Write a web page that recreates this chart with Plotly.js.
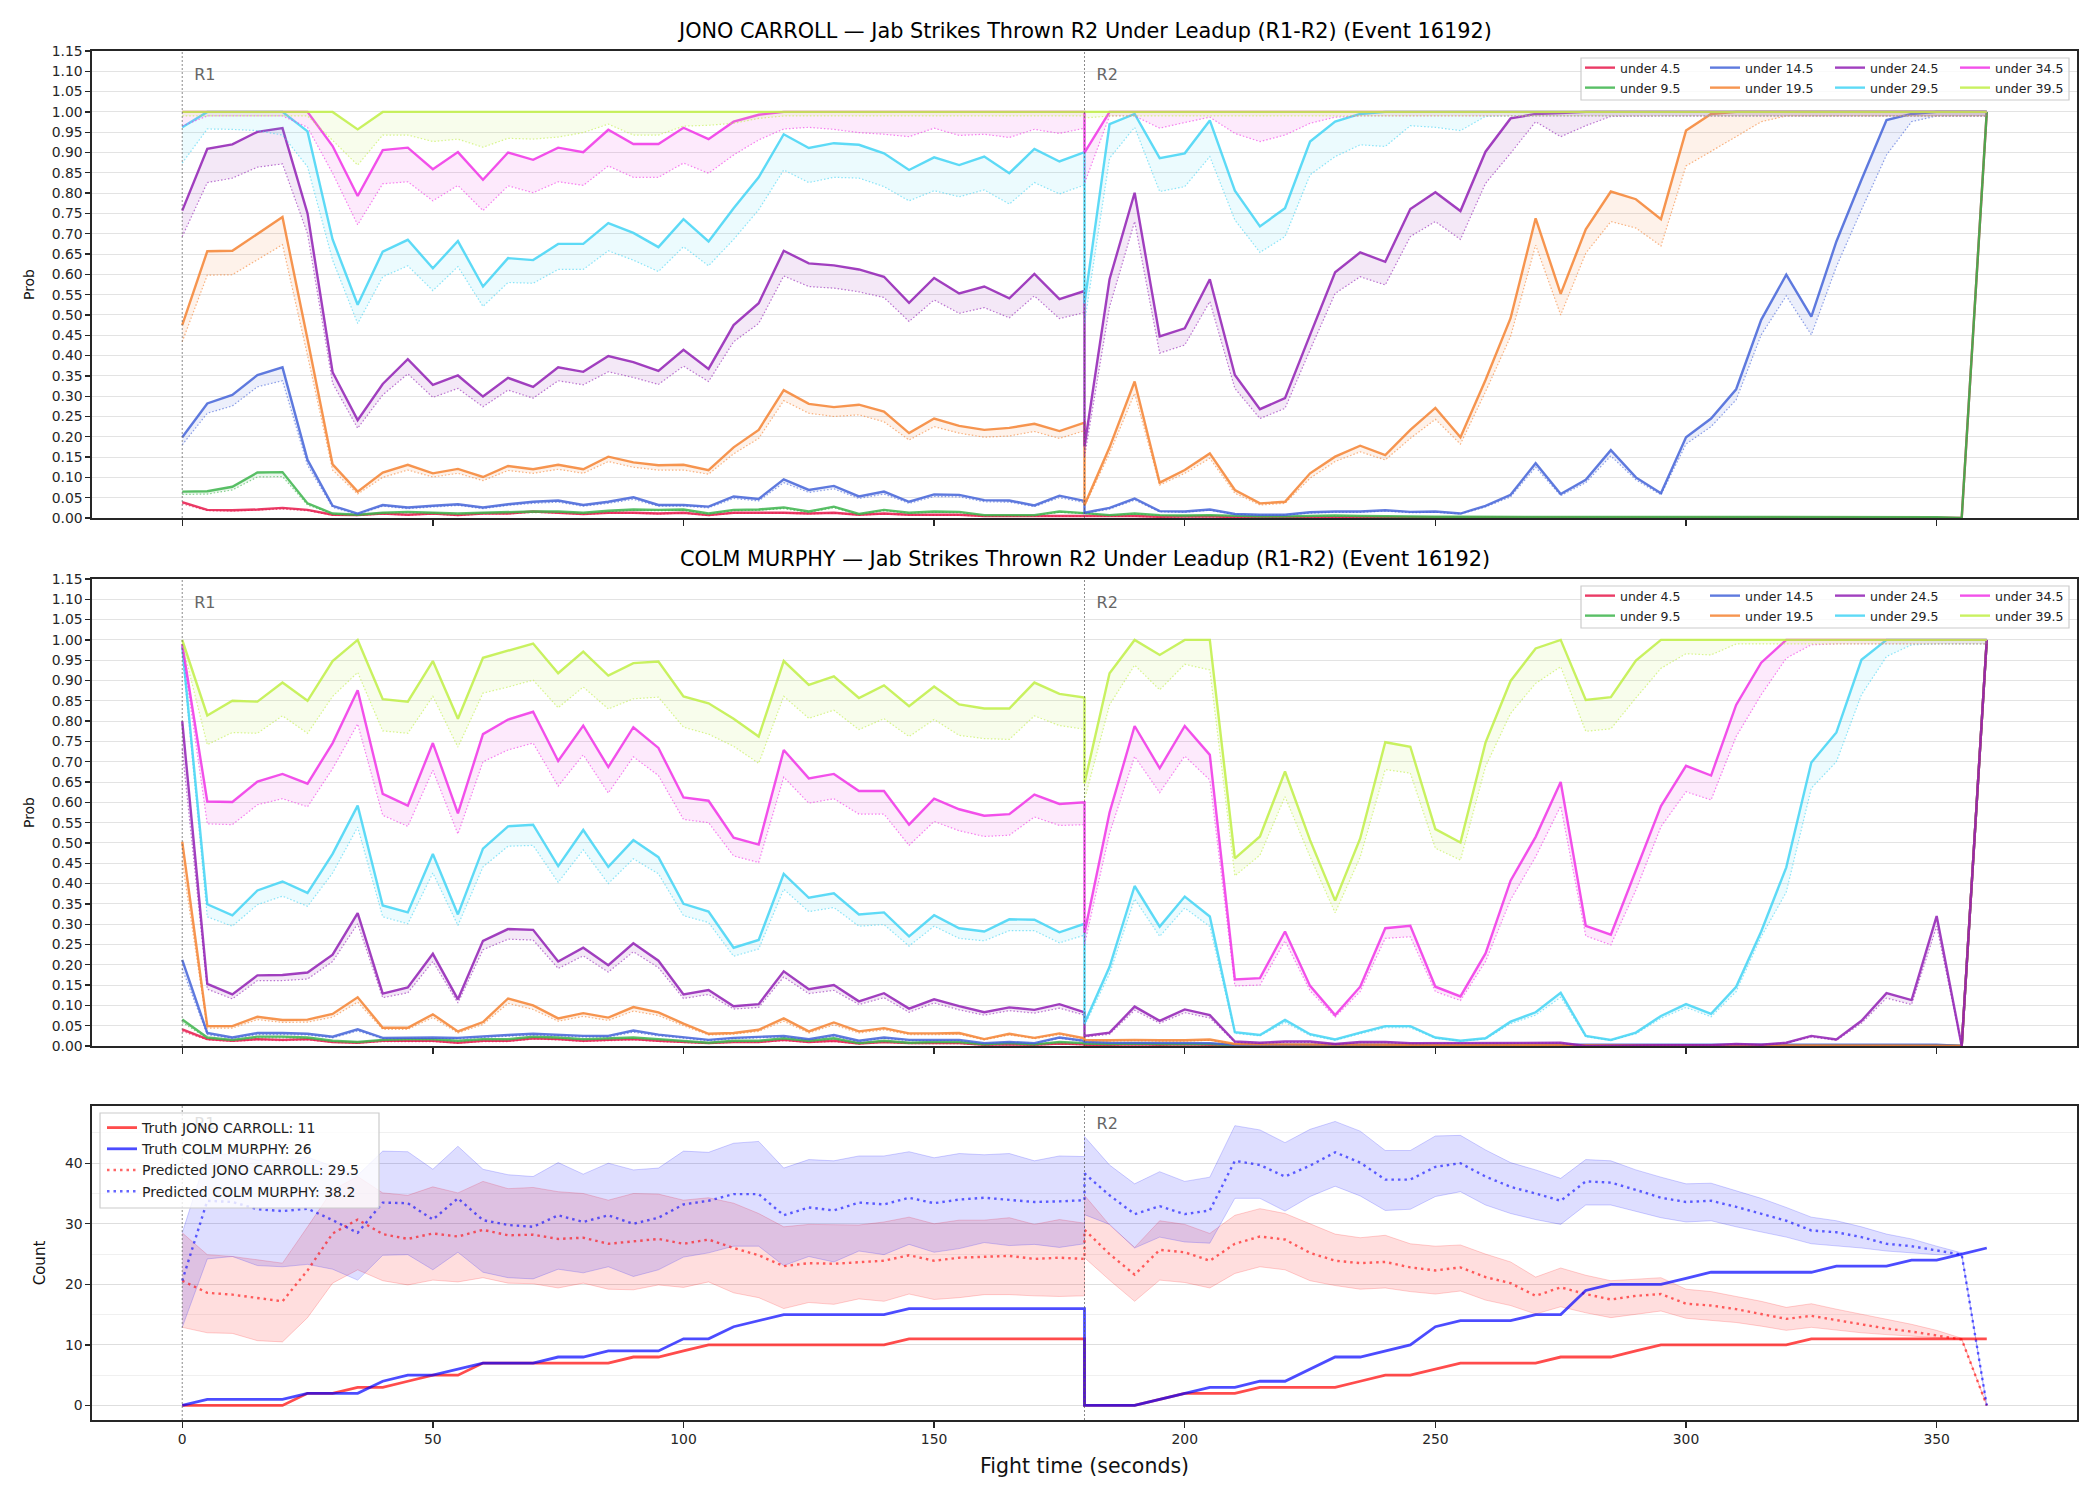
<!DOCTYPE html>
<html><head><meta charset="utf-8">
<script src="https://cdn.plot.ly/plotly-3.0.1.min.js"></script>
<style>html,body{margin:0;padding:0;background:#fff}#chart{width:2100px;height:1500px}</style>
</head><body><div id="chart"></div>
<script>
// ---------------- DATA ----------------
const FIGHTER_A = 'JONO CARROLL';
const FIGHTER_B = 'COLM MURPHY';
const TITLE_SUFFIX = ' \u2014 Jab Strikes Thrown R2 Under Leadup (R1-R2) (Event 16192)';
const THRESHOLDS = ['under 4.5','under 9.5','under 14.5','under 19.5','under 24.5','under 29.5','under 34.5','under 39.5'];
const COLORS = ['#e6194b','#3cb44b','#4363d8','#f58231','#911eb4','#42d4f4','#f032e6','#bfef45'];
const ROUND_STARTS = [0, 180];
const ROUND_LABELS = ['R1', 'R2'];
const X_TICKS = [0,50,100,150,200,250,300,350];
const Y_TICKS = [0,0.05,0.10,0.15,0.20,0.25,0.30,0.35,0.40,0.45,0.50,0.55,0.60,0.65,0.70,0.75,0.80,0.85,0.90,0.95,1.00,1.05,1.10,1.15];

const T_R1 = [0,5,10,15,20,25,30,35,40,45,50,55,60,65,70,75,80,85,90,95,100,105,110,115,120,125,130,135,140,145,150,155,160,165,170,175,180];
const T_R2 = [180,185,190,195,200,205,210,215,220,225,230,235,240,245,250,255,260,265,270,275,280,285,290,295,300,305,310,315,320,325,330,335,340,345,350,355,360];

// ---- JONO CARROLL probabilities (main line and dotted lower line) ----
const JC_U45_R1 = [0.039,0.020,0.019,0.021,0.025,0.020,0.008,0.007,0.011,0.008,0.011,0.007,0.011,0.011,0.016,0.013,0.010,0.013,0.013,0.011,0.013,0.007,0.013,0.013,0.013,0.011,0.013,0.008,0.011,0.008,0.008,0.008,0.005,0.005,0.005,0.005,0.005];
const JC_U45_R2 = [0.004,0.004,0.005,0.003,0.003,0.004,0.002,0.002,0.002,0.002,0.002,0.002,
  0.001,0.001,0.001,0.001,0.001,0.001,0.001,0.001,0.001,0.001,
  0.001,0.001,0.001,0.001,0.001,0.001,0.001,0.001,0.001,0.001,
  0.001,0.001,0.001,0.000,1.000];
const JC_U45_LO_R1 = [0.035,0.018,0.017,0.019,0.022,0.018,0.007,0.006,0.010,0.007,0.010,0.006,0.010,0.010,0.014,0.012,0.009,0.012,0.012,0.010,0.012,0.006,0.012,0.012,0.012,0.010,0.012,0.007,0.010,0.007,0.007,0.007,0.004,0.004,0.004,0.004,0.004];
const JC_U45_LO_R2 = [0.003,0.003,0.004,0.002,0.002,0.003,0.001,0.001,0.001,0.001,0.001,0.001,
  0.001,0.001,0.001,0.001,0.001,0.001,0.001,0.001,0.001,0.001,
  0.001,0.001,0.001,0.001,0.001,0.001,0.001,0.001,0.001,0.001,
  0.001,0.001,0.001,0.000,0.990];

const JC_U95_R1 = [0.065,0.066,0.077,0.112,0.113,0.036,0.011,0.008,0.013,0.015,0.013,0.011,0.013,0.015,0.016,0.016,0.013,0.018,0.021,0.020,0.021,0.011,0.020,0.021,0.026,0.016,0.028,0.010,0.020,0.013,0.016,0.015,0.007,0.007,0.007,0.016,0.013];
const JC_U95_R2 = [0.012,0.007,0.011,0.007,0.006,0.007,0.005,0.004,0.004,0.005,0.006,0.005,0.004,0.003,0.003,0.003,0.003,0.003,0.003,
  0.002,0.002,0.002,0.002,0.002,0.002,0.002,0.002,0.002,0.002,
  0.002,0.002,0.002,0.002,0.002,0.002,0.000,1.000];
const JC_U95_LO_R1 = [0.058,0.059,0.069,0.101,0.102,0.032,0.010,0.007,0.012,0.013,0.012,0.010,0.012,0.013,0.014,0.014,0.012,0.016,0.019,0.018,0.019,0.010,0.018,0.019,0.023,0.014,0.025,0.009,0.018,0.012,0.014,0.013,0.006,0.006,0.006,0.014,0.012];
const JC_U95_LO_R2 = [0.011,0.006,0.010,0.006,0.005,0.006,0.004,0.003,0.003,0.004,0.005,0.004,0.003,0.002,0.002,0.002,0.002,0.002,0.002,
  0.001,0.001,0.001,0.001,0.001,0.001,0.001,0.001,0.001,0.001,
  0.001,0.001,0.001,0.001,0.001,0.001,0.000,0.990];

const JC_U145_R1 = [0.199,0.282,0.303,0.352,0.371,0.143,0.030,0.011,0.032,0.026,0.030,0.034,0.026,0.034,0.040,0.043,0.032,0.040,0.051,0.032,0.032,0.028,0.053,0.047,0.095,0.069,0.079,0.053,0.065,0.040,0.058,0.057,0.044,0.043,0.031,0.055,0.042];
const JC_U145_R2 = [0.013,0.025,0.048,0.017,0.016,0.021,0.010,0.008,0.008,0.014,0.016,0.016,0.019,0.015,0.016,0.011,0.030,0.057,0.135,0.059,0.094,0.167,0.100,0.061,0.199,0.245,0.317,0.488,0.599,0.496,0.681,0.833,0.980,0.995,1.000,1.000,1.000];
const JC_U145_LO_R1 = [0.180,0.258,0.276,0.323,0.338,0.130,0.026,0.009,0.029,0.023,0.027,0.031,0.023,0.031,0.036,0.039,0.029,0.036,0.046,0.029,0.029,0.025,0.048,0.042,0.087,0.063,0.072,0.048,0.059,0.036,0.053,0.052,0.040,0.039,0.028,0.050,0.038];
const JC_U145_LO_R2 = [0.011,0.022,0.044,0.015,0.014,0.019,0.009,0.007,0.007,0.012,0.014,0.014,0.017,0.013,0.014,0.010,0.027,0.052,0.125,0.055,0.087,0.153,0.094,0.057,0.182,0.225,0.291,0.451,0.547,0.451,0.619,0.759,0.894,0.976,0.990,0.990,0.990];

const JC_U195_R1 = [0.475,0.657,0.658,0.700,0.741,0.440,0.132,0.065,0.112,0.131,0.110,0.121,0.101,0.128,0.120,0.131,0.120,0.151,0.137,0.130,0.131,0.118,0.174,0.217,0.315,0.281,0.273,0.279,0.262,0.209,0.245,0.227,0.217,0.222,0.232,0.214,0.235];
const JC_U195_R2 = [0.032,0.174,0.336,0.087,0.118,0.159,0.069,0.036,0.040,0.110,0.151,0.178,0.155,0.217,0.271,0.199,0.340,0.492,0.738,0.552,0.711,0.804,0.785,0.736,0.954,0.995,1.000,1.000,1.000,1.000,1.000,1.000,1.000,1.000,1.000,1.000,1.000];
const JC_U195_LO_R1 = [0.434,0.598,0.599,0.635,0.673,0.400,0.118,0.059,0.100,0.118,0.101,0.110,0.092,0.117,0.110,0.120,0.110,0.139,0.125,0.118,0.118,0.108,0.158,0.196,0.289,0.258,0.250,0.254,0.237,0.192,0.225,0.209,0.199,0.202,0.213,0.196,0.215];
const JC_U195_LO_R2 = [0.029,0.159,0.307,0.081,0.110,0.147,0.061,0.032,0.036,0.098,0.139,0.163,0.143,0.196,0.243,0.182,0.311,0.447,0.672,0.500,0.652,0.730,0.714,0.670,0.867,0.902,0.939,0.976,0.990,0.990,0.990,0.990,0.990,0.990,0.990,0.990,0.990];

const JC_U245_R1 = [0.757,0.909,0.920,0.951,0.960,0.750,0.359,0.241,0.330,0.391,0.328,0.351,0.299,0.345,0.323,0.371,0.360,0.399,0.384,0.362,0.414,0.367,0.475,0.529,0.658,0.627,0.622,0.612,0.594,0.530,0.591,0.553,0.570,0.541,0.601,0.539,0.559];
const JC_U245_R2 = [0.176,0.588,0.801,0.447,0.467,0.588,0.352,0.268,0.295,0.451,0.605,0.654,0.631,0.761,0.802,0.756,0.902,0.984,0.995,0.997,
  1.000,1.000,1.000,1.000,1.000,1.000,1.000,1.000,1.000,1.000,
  1.000,1.000,1.000,1.000,1.000,1.000,1.000];
const JC_U245_LO_R1 = [0.693,0.826,0.837,0.864,0.872,0.700,0.332,0.221,0.303,0.355,0.297,0.319,0.274,0.315,0.295,0.338,0.328,0.360,0.346,0.329,0.374,0.336,0.434,0.479,0.596,0.570,0.566,0.557,0.543,0.484,0.537,0.504,0.518,0.493,0.547,0.491,0.506];
const JC_U245_LO_R2 = [0.150,0.520,0.730,0.406,0.426,0.533,0.319,0.245,0.270,0.414,0.553,0.594,0.574,0.693,0.730,0.686,0.824,0.898,0.976,0.939,0.966,0.989,
  0.990,0.990,0.990,0.990,0.990,0.990,0.990,0.990,0.990,0.990,
  0.990,0.990,0.990,0.990,0.990];

const JC_U295_R1 = [0.962,1.000,1.000,1.000,1.000,0.952,0.686,0.525,0.656,0.685,0.615,0.682,0.570,0.640,0.635,0.675,0.675,0.726,0.702,0.667,0.736,0.681,0.763,0.839,0.945,0.911,0.923,0.919,0.898,0.857,0.888,0.869,0.890,0.849,0.909,0.878,0.901];
const JC_U295_R2 = [0.529,0.970,0.995,0.886,0.898,0.979,0.806,0.718,0.763,0.927,0.976,0.995,
  1.000,1.000,1.000,1.000,1.000,1.000,1.000,1.000,1.000,1.000,
  1.000,1.000,1.000,1.000,1.000,1.000,1.000,1.000,1.000,1.000,
  1.000,1.000,1.000,1.000,1.000];
const JC_U295_LO_R1 = [0.874,0.958,0.957,0.954,0.943,0.865,0.635,0.479,0.594,0.621,0.560,0.619,0.521,0.580,0.578,0.612,0.612,0.658,0.635,0.607,0.668,0.621,0.686,0.759,0.857,0.826,0.839,0.837,0.816,0.781,0.806,0.791,0.808,0.773,0.826,0.798,0.820];
const JC_U295_LO_R2 = [0.480,0.886,0.962,0.804,0.816,0.890,0.734,0.654,0.693,0.845,0.890,0.919,0.915,0.966,0.962,0.954,0.989,
  0.990,0.990,0.990,0.990,0.990,0.990,0.990,0.990,0.990,0.990,
  0.990,0.990,0.990,0.990,0.990,0.990,0.990,0.990,0.990,0.990];

const JC_U345_R1 = [1.000,1.000,1.000,1.000,1.000,1.000,0.916,0.793,0.906,0.912,0.859,0.901,0.833,0.900,0.882,0.912,0.901,0.956,0.921,0.921,0.961,0.933,0.976,0.993,
  1.000,1.000,1.000,1.000,1.000,1.000,1.000,1.000,1.000,1.000,1.000,1.000,1.000];
const JC_U345_R2 = [0.900,
  1.000,1.000,1.000,1.000,1.000,1.000,1.000,1.000,1.000,1.000,
  1.000,1.000,1.000,1.000,1.000,1.000,1.000,1.000,1.000,1.000,
  1.000,1.000,1.000,1.000,1.000,1.000,1.000,1.000,1.000,1.000,
  1.000,1.000,1.000,1.000,1.000,1.000];
const JC_U345_LO_R1 = [0.965,0.990,0.990,0.990,0.990,0.962,0.849,0.722,0.823,0.828,0.781,0.819,0.757,0.818,0.801,0.828,0.819,0.867,0.839,0.839,0.874,0.849,0.894,0.931,0.958,0.962,0.957,0.949,0.945,0.939,0.960,0.942,0.945,0.937,0.957,0.947,0.960];
const JC_U345_LO_R2 = [0.824,0.990,0.990,0.960,0.974,0.987,0.947,0.927,0.943,0.972,0.987,
  0.990,0.990,0.990,0.990,0.990,0.990,0.990,0.990,0.990,0.990,
  0.990,0.990,0.990,0.990,0.990,0.990,0.990,0.990,0.990,0.990,
  0.990,0.990,0.990,0.990,0.990,0.990];

const JC_U395_R1 = [1.000,1.000,1.000,1.000,1.000,1.000,1.000,0.957,
  1.000,1.000,1.000,1.000,1.000,1.000,1.000,1.000,1.000,1.000,
  1.000,1.000,1.000,1.000,1.000,1.000,1.000,1.000,1.000,1.000,
  1.000,1.000,1.000,1.000,1.000,1.000,1.000,1.000,1.000];
const JC_U395_R2 = [1.000,1.000,1.000,1.000,1.000,1.000,1.000,1.000,1.000,1.000,
  1.000,1.000,1.000,1.000,1.000,1.000,1.000,1.000,1.000,1.000,
  1.000,1.000,1.000,1.000,1.000,1.000,1.000,1.000,1.000,1.000,
  1.000,1.000,1.000,1.000,1.000,1.000,1.000];
const JC_U395_LO_R1 = [0.990,0.990,0.990,0.990,0.990,0.990,0.930,0.869,0.943,0.943,0.927,0.933,0.913,0.935,0.933,0.938,0.949,0.970,0.943,0.943,0.965,0.967,0.972,0.984,
  0.990,0.990,0.990,0.990,0.990,0.990,0.990,0.990,0.990,0.990,0.990,0.990,0.990];
const JC_U395_LO_R2 = [0.985,
  0.990,0.990,0.990,0.990,0.990,0.990,0.990,0.990,0.990,0.990,
  0.990,0.990,0.990,0.990,0.990,0.990,0.990,0.990,0.990,0.990,
  0.990,0.990,0.990,0.990,0.990,0.990,0.990,0.990,0.990,0.990,
  0.990,0.990,0.990,0.990,0.990,0.990];

// ---- COLM MURPHY probabilities ----
const CM_U45_R1 = [0.041,0.017,0.013,0.017,0.015,0.017,0.010,0.008,0.013,0.013,0.013,0.008,0.013,0.013,0.019,0.017,0.013,0.015,0.017,0.013,0.010,0.007,0.010,0.010,0.015,0.010,0.013,0.006,0.010,0.007,0.007,0.007,0.003,0.004,0.003,0.006,0.004];
const CM_U45_R2 = [0.003,0.003,0.004,0.003,0.004,0.003,
  0.001,0.001,0.001,0.001,0.001,0.001,0.001,0.001,0.001,0.001,
  0.001,0.001,0.001,0.001,0.001,0.001,0.001,0.001,0.001,0.001,
  0.001,0.001,0.001,0.001,0.001,0.001,0.001,0.001,0.001,0.000,1.000];
const CM_U45_LO_R1 = [0.036,0.015,0.011,0.015,0.013,0.015,0.009,0.007,0.011,0.011,0.011,0.007,0.011,0.011,0.017,0.015,0.011,0.013,0.015,0.011,0.009,0.006,0.009,0.009,0.013,0.009,0.011,0.005,0.009,0.006,0.006,0.006,0.002,0.003,0.002,0.005,0.003];
const CM_U45_LO_R2 = [0.002,0.002,0.003,0.002,0.003,0.002,
  0.001,0.001,0.001,0.001,0.001,0.001,0.001,0.001,0.001,0.001,
  0.001,0.001,0.001,0.001,0.001,0.001,0.001,0.001,0.001,0.001,
  0.001,0.001,0.001,0.001,0.001,0.001,0.001,0.001,0.001,0.000,0.990];

const CM_U95_R1 = [0.065,0.021,0.015,0.023,0.023,0.021,0.013,0.010,0.015,0.017,0.017,0.013,0.017,0.017,0.023,0.021,0.017,0.019,0.021,0.017,0.013,0.008,0.013,0.013,0.019,0.013,0.019,0.007,0.013,0.008,0.010,0.010,0.004,0.007,0.004,0.010,0.007];
const CM_U95_R2 = [0.006,0.005,0.006,0.005,0.005,0.005,
  0.002,0.002,0.002,0.002,0.002,0.002,0.002,0.002,0.002,0.002,
  0.002,0.002,0.002,0.002,0.002,0.002,0.002,0.002,0.002,0.002,
  0.002,0.002,0.002,0.002,0.002,0.002,0.002,0.002,0.002,0.000,1.000];
const CM_U95_LO_R1 = [0.058,0.019,0.013,0.020,0.020,0.019,0.011,0.009,0.013,0.015,0.015,0.011,0.015,0.015,0.020,0.019,0.015,0.017,0.019,0.015,0.011,0.007,0.011,0.011,0.017,0.011,0.017,0.006,0.011,0.007,0.009,0.009,0.003,0.006,0.003,0.009,0.006];
const CM_U95_LO_R2 = [0.005,0.004,0.005,0.004,0.004,0.004,
  0.001,0.001,0.001,0.001,0.001,0.001,0.001,0.001,0.001,0.001,
  0.001,0.001,0.001,0.001,0.001,0.001,0.001,0.001,0.001,0.001,
  0.001,0.001,0.001,0.001,0.001,0.001,0.001,0.001,0.001,0.000,0.990];

const CM_U145_R1 = [0.212,0.032,0.021,0.032,0.032,0.030,0.023,0.041,0.020,0.021,0.021,0.020,0.024,0.027,0.030,0.028,0.025,0.025,0.038,0.028,0.021,0.015,0.020,0.023,0.025,0.017,0.027,0.013,0.021,0.015,0.015,0.015,0.007,0.010,0.007,0.021,0.013];
const CM_U145_R2 = [0.010,0.008,0.008,0.007,0.007,0.007,
  0.003,0.003,0.003,0.003,0.003,0.003,0.003,0.003,0.003,0.003,
  0.003,0.003,0.003,0.003,0.003,0.003,0.003,0.003,0.003,0.003,
  0.003,0.003,0.003,0.003,0.003,0.003,0.003,0.003,0.003,0.000,1.000];
const CM_U145_LO_R1 = [0.190,0.028,0.019,0.028,0.028,0.027,0.020,0.037,0.018,0.019,0.019,0.018,0.021,0.024,0.027,0.025,0.022,0.022,0.034,0.025,0.019,0.013,0.018,0.020,0.022,0.015,0.024,0.011,0.019,0.013,0.013,0.013,0.006,0.009,0.006,0.019,0.011];
const CM_U145_LO_R2 = [0.009,0.007,0.007,0.006,0.006,0.006,
  0.002,0.002,0.002,0.002,0.002,0.002,0.002,0.002,0.002,0.002,
  0.002,0.002,0.002,0.002,0.002,0.002,0.002,0.002,0.002,0.002,
  0.002,0.002,0.002,0.002,0.002,0.002,0.002,0.002,0.002,0.000,0.990];

const CM_U195_R1 = [0.503,0.049,0.049,0.072,0.064,0.065,0.079,0.120,0.045,0.045,0.078,0.036,0.059,0.117,0.100,0.068,0.081,0.070,0.096,0.083,0.055,0.030,0.032,0.040,0.068,0.036,0.058,0.036,0.044,0.031,0.031,0.032,0.017,0.030,0.020,0.031,0.019];
const CM_U195_R2 = [0.015,0.014,0.015,0.014,0.014,0.016,0.005,0.004,0.004,0.004,0.003,0.003,0.003,0.003,0.002,0.002,0.002,0.002,0.002,
  0.001,0.001,0.001,0.001,0.001,0.001,0.001,0.001,0.001,0.001,
  0.001,0.001,0.001,0.001,0.001,0.001,0.000,1.000];
const CM_U195_LO_R1 = [0.455,0.044,0.044,0.065,0.058,0.059,0.071,0.108,0.041,0.041,0.070,0.032,0.053,0.105,0.090,0.061,0.073,0.063,0.086,0.075,0.050,0.027,0.029,0.036,0.061,0.032,0.052,0.032,0.040,0.028,0.028,0.029,0.015,0.027,0.018,0.028,0.017];
const CM_U195_LO_R2 = [0.013,0.012,0.013,0.012,0.012,0.014,0.004,0.003,0.003,0.003,0.002,0.002,0.002,0.002,0.001,0.001,0.001,0.001,0.001,
  0.001,0.001,0.001,0.001,0.001,0.001,0.001,0.001,0.001,0.001,
  0.001,0.001,0.001,0.001,0.001,0.001,0.000,0.990];

const CM_U245_R1 = [0.800,0.153,0.127,0.174,0.175,0.181,0.225,0.327,0.129,0.144,0.227,0.115,0.259,0.288,0.286,0.208,0.242,0.199,0.253,0.210,0.127,0.138,0.098,0.103,0.184,0.140,0.150,0.110,0.130,0.092,0.115,0.098,0.083,0.095,0.089,0.103,0.083];
const CM_U245_R2 = [0.025,0.033,0.097,0.062,0.090,0.076,0.011,0.008,0.011,0.011,0.005,0.010,0.010,0.007,0.007,0.007,0.007,0.007,0.008,0.008,0.000,0.001,0.001,0.002,0.002,0.002,0.005,0.003,0.008,0.025,0.016,0.062,0.130,0.113,0.320,0.000,1.000];
const CM_U245_LO_R1 = [0.730,0.140,0.116,0.161,0.161,0.165,0.208,0.301,0.119,0.131,0.208,0.106,0.237,0.263,0.261,0.191,0.222,0.182,0.232,0.193,0.117,0.127,0.091,0.095,0.170,0.129,0.137,0.102,0.119,0.083,0.106,0.089,0.076,0.087,0.081,0.093,0.076];
const CM_U245_LO_R2 = [0.022,0.029,0.088,0.056,0.082,0.069,0.009,0.007,0.009,0.009,0.004,0.008,0.008,0.006,0.006,0.006,0.006,0.006,0.007,0.007,0.000,0.001,0.001,0.002,0.002,0.002,0.004,0.003,0.007,0.022,0.014,0.056,0.118,0.102,0.295,0.000,0.990];

const CM_U295_R1 = [0.984,0.349,0.322,0.383,0.405,0.377,0.473,0.592,0.346,0.329,0.473,0.324,0.486,0.541,0.545,0.443,0.532,0.441,0.507,0.465,0.350,0.331,0.242,0.261,0.424,0.365,0.376,0.324,0.329,0.270,0.322,0.290,0.282,0.312,0.311,0.280,0.301];
const CM_U295_R2 = [0.056,0.195,0.394,0.294,0.368,0.319,0.034,0.027,0.064,0.029,0.016,0.033,0.049,0.049,0.021,0.013,0.019,0.060,0.083,0.131,0.025,0.015,0.033,0.074,0.103,0.079,0.146,0.282,0.440,0.698,0.772,0.951,1.000,1.000,1.000,1.000,1.000];
const CM_U295_LO_R1 = [0.970,0.318,0.295,0.348,0.369,0.344,0.426,0.539,0.318,0.301,0.426,0.297,0.441,0.492,0.494,0.403,0.483,0.400,0.461,0.424,0.321,0.304,0.221,0.239,0.386,0.331,0.341,0.295,0.299,0.246,0.295,0.265,0.259,0.284,0.284,0.254,0.273];
const CM_U295_LO_R2 = [0.050,0.178,0.362,0.270,0.340,0.294,0.031,0.025,0.058,0.026,0.014,0.030,0.045,0.045,0.019,0.012,0.017,0.055,0.076,0.120,0.023,0.014,0.030,0.068,0.095,0.072,0.134,0.269,0.379,0.635,0.700,0.865,0.959,0.988,0.990,0.990,0.990];

const CM_U345_R1 = [0.990,0.602,0.601,0.651,0.670,0.646,0.746,0.876,0.621,0.592,0.746,0.573,0.768,0.804,0.823,0.702,0.789,0.687,0.785,0.734,0.612,0.604,0.513,0.496,0.729,0.659,0.670,0.628,0.628,0.545,0.609,0.583,0.567,0.571,0.619,0.596,0.600];
const CM_U345_R2 = [0.278,0.575,0.788,0.684,0.788,0.717,0.164,0.167,0.282,0.148,0.076,0.146,0.290,0.296,0.146,0.122,0.228,0.407,0.515,0.650,0.296,0.274,0.430,0.591,0.690,0.666,0.840,0.944,1.000,1.000,1.000,1.000,1.000,1.000,1.000,1.000,1.000];
const CM_U345_LO_R1 = [0.980,0.547,0.545,0.594,0.609,0.589,0.683,0.793,0.568,0.541,0.679,0.522,0.700,0.729,0.746,0.640,0.717,0.623,0.712,0.666,0.558,0.550,0.468,0.452,0.662,0.598,0.609,0.571,0.571,0.494,0.553,0.530,0.516,0.519,0.564,0.543,0.545];
const CM_U345_LO_R2 = [0.250,0.524,0.713,0.624,0.714,0.655,0.148,0.150,0.259,0.136,0.071,0.134,0.265,0.269,0.134,0.112,0.208,0.360,0.466,0.591,0.271,0.249,0.384,0.540,0.626,0.606,0.762,0.865,0.955,0.988,0.990,0.990,0.990,0.990,0.990,0.990,0.990];

const CM_U395_R1 = [1.000,0.814,0.850,0.848,0.895,0.850,0.948,1.000,0.854,0.848,0.948,0.806,0.956,0.974,0.991,0.918,0.971,0.912,0.943,0.947,0.861,0.844,0.806,0.762,0.948,0.889,0.910,0.857,0.888,0.837,0.885,0.841,0.831,0.831,0.895,0.867,0.858];
const CM_U395_R2 = [0.647,0.918,1.000,0.963,1.000,1.000,0.462,0.516,0.676,0.507,0.358,0.511,0.748,0.737,0.534,0.501,0.747,0.899,0.979,1.000,0.852,0.859,0.949,1.000,
  1.000,1.000,1.000,1.000,1.000,1.000,1.000,1.000,1.000,1.000,1.000,1.000,1.000];
const CM_U395_LO_R1 = [0.990,0.742,0.772,0.770,0.813,0.770,0.861,0.920,0.776,0.770,0.861,0.736,0.869,0.884,0.901,0.833,0.884,0.830,0.855,0.859,0.785,0.768,0.738,0.696,0.861,0.807,0.827,0.779,0.806,0.762,0.804,0.765,0.757,0.755,0.813,0.789,0.780];
const CM_U395_LO_R2 = [0.606,0.840,0.938,0.877,0.940,0.926,0.419,0.470,0.614,0.466,0.328,0.465,0.681,0.672,0.487,0.458,0.688,0.819,0.893,0.934,0.775,0.781,0.857,0.930,0.966,0.963,
  0.990,0.990,0.990,0.990,0.990,0.990,0.990,0.990,0.990,0.990,0.990];

// ---- Counts (bottom panel) ----
const COUNT_LEGEND = ['Truth JONO CARROLL: 11','Truth COLM MURPHY: 26','Predicted JONO CARROLL: 29.5','Predicted COLM MURPHY: 38.2'];
const TRUTH_JC_R1 = [0,0,0,0,0,2,2,3,3,4,5,5,7,7,7,7,7,7,8,8,9,10,10,10,10,10,10,10,10,11,11,11,11,11,11,11,11];
const TRUTH_JC_R2 = [0,0,0,1,2,2,2,3,3,3,3,4,5,5,6,7,7,7,7,8,8,8,9,10,10,10,10,10,10,11,11,11,11,11,11,11,11];
const TRUTH_CM_R1 = [0,1,1,1,1,2,2,2,4,5,5,6,7,7,7,8,8,9,9,9,11,11,13,14,15,15,15,15,15,16,16,16,16,16,16,16,16];
const TRUTH_CM_R2 = [0,0,0,1,2,3,3,4,4,6,8,8,9,10,13,14,14,14,15,15,19,20,20,20,21,22,22,22,22,22,23,23,23,24,24,25,26];
const PRED_JC_R1 = [20.6,18.6,18.3,17.7,17.2,22.3,28.4,30.7,28.3,27.5,28.4,27.9,29.0,28.1,28.2,27.5,27.7,26.7,27.1,27.5,26.7,27.4,26.0,24.8,23.0,23.5,23.4,23.7,23.9,24.8,23.9,24.4,24.5,24.7,24.2,24.4,24.2];
const PRED_JC_R2 = [29.0,25.0,21.6,25.7,25.3,23.9,26.7,27.9,27.4,25.2,23.9,23.5,23.7,22.8,22.3,22.8,21.2,20.2,18.1,19.5,18.4,17.5,18.1,18.4,16.8,16.5,15.9,15.1,14.3,14.8,14.1,13.4,12.7,12.2,11.5,10.9,0];
const PRED_CM_R1 = [20.6,33.8,33.6,32.4,32.1,32.5,30.6,28.5,33.5,33.4,30.7,34.2,30.6,29.8,29.5,31.4,30.3,31.4,30.0,31.0,33.2,33.8,34.9,34.9,31.4,32.7,32.2,33.5,33.2,34.3,33.4,34.0,34.3,33.9,33.6,33.7,33.9];
const PRED_CM_R2 = [38.3,34.7,31.6,32.9,31.6,32.2,40.4,39.7,37.8,39.6,41.8,40.1,37.3,37.3,39.4,40.0,37.8,36.1,35.0,33.8,37.0,36.8,35.6,34.3,33.6,33.8,32.8,31.7,30.5,28.9,28.6,27.8,26.7,26.3,25.6,24.9,0];
const BAND_JC_HI_R1 = [28.5,24.9,24.6,24.0,23.5,29.5,35.6,37.8,35.1,34.7,36.1,35.1,37.0,35.8,36.0,35.3,35.0,33.9,35.0,34.9,33.9,34.3,33.4,31.7,29.5,29.9,29.9,29.8,30.3,31.1,30.0,30.6,30.6,31.0,29.9,30.7,30.1];
const BAND_JC_LO_R1 = [12.9,12.0,11.9,10.7,10.5,14.5,20.2,22.4,20.6,19.9,20.7,20.4,21.1,20.2,20.1,19.4,20.2,19.2,19.1,19.9,19.5,20.4,18.6,17.8,16.0,17.0,16.7,17.6,17.2,18.4,17.5,17.8,18.3,18.3,18.1,18.0,18.1];
const BAND_JC_HI_R2 = [34.7,29.8,26.1,30.5,29.9,28.4,31.4,32.5,31.7,30.0,28.3,27.7,28.1,26.7,26.3,26.5,25.0,23.7,21.2,22.7,21.5,20.6,20.8,21.1,19.2,18.8,18.0,17.2,16.2,16.8,15.9,15.1,14.2,13.4,12.4,11.1,0];
const BAND_JC_LO_R2 = [24.4,20.7,17.2,20.7,20.3,19.4,21.8,22.9,22.4,20.6,19.8,19.2,19.4,18.8,18.4,18.9,17.4,16.5,15.1,16.3,15.3,14.5,15.1,15.6,14.4,14.1,13.7,13.1,12.4,12.9,12.4,12.0,11.7,11.5,11.2,10.9,0];
const BAND_CM_HI_R1 = [28.5,41.5,41.5,40.5,40.5,41.0,39.5,38.0,42.0,41.9,39.0,42.8,39.0,38.1,37.8,40.1,38.2,40.0,38.9,39.2,42.0,41.8,43.3,43.6,39.2,40.6,40.4,41.2,41.2,41.9,40.9,41.6,41.4,41.6,40.4,41.2,41.1];
const BAND_CM_LO_R1 = [12.9,24.2,24.6,23.1,22.9,23.3,22.5,20.7,24.8,24.9,22.4,25.3,22.0,21.1,20.9,22.5,21.9,22.9,21.3,22.4,24.5,25.2,26.3,26.3,23.1,24.6,23.7,25.5,24.9,26.6,25.3,25.9,26.9,26.4,26.6,26.1,26.7];
const BAND_CM_HI_R2 = [44.4,39.7,36.6,38.6,37.0,37.7,46.2,45.5,43.4,45.6,46.9,45.3,42.1,42.1,44.5,44.6,42.2,40.1,38.9,37.5,40.6,40.4,38.9,37.7,36.6,36.7,35.5,34.2,32.7,31.1,30.5,29.5,28.3,27.5,26.3,25.2,0];
const BAND_CM_LO_R2 = [31.5,29.9,26.0,27.8,27.0,26.8,34.2,34.2,32.1,34.5,36.2,34.6,32.2,32.4,34.5,35.3,33.1,31.7,30.7,29.9,33.1,33.1,32.0,31.0,30.3,30.5,29.5,28.6,27.8,26.7,26.4,26.0,25.5,25.2,24.9,24.8,0];

// ---------------- BUILD ----------------
const ALL = {JC_U45_R1,JC_U45_R2,JC_U45_LO_R1,JC_U45_LO_R2,JC_U95_R1,JC_U95_R2,JC_U95_LO_R1,JC_U95_LO_R2,JC_U145_R1,JC_U145_R2,JC_U145_LO_R1,JC_U145_LO_R2,JC_U195_R1,JC_U195_R2,JC_U195_LO_R1,JC_U195_LO_R2,JC_U245_R1,JC_U245_R2,JC_U245_LO_R1,JC_U245_LO_R2,JC_U295_R1,JC_U295_R2,JC_U295_LO_R1,JC_U295_LO_R2,JC_U345_R1,JC_U345_R2,JC_U345_LO_R1,JC_U345_LO_R2,JC_U395_R1,JC_U395_R2,JC_U395_LO_R1,JC_U395_LO_R2,
CM_U45_R1,CM_U45_R2,CM_U45_LO_R1,CM_U45_LO_R2,CM_U95_R1,CM_U95_R2,CM_U95_LO_R1,CM_U95_LO_R2,CM_U145_R1,CM_U145_R2,CM_U145_LO_R1,CM_U145_LO_R2,CM_U195_R1,CM_U195_R2,CM_U195_LO_R1,CM_U195_LO_R2,CM_U245_R1,CM_U245_R2,CM_U245_LO_R1,CM_U245_LO_R2,CM_U295_R1,CM_U295_R2,CM_U295_LO_R1,CM_U295_LO_R2,CM_U345_R1,CM_U345_R2,CM_U345_LO_R1,CM_U345_LO_R2,CM_U395_R1,CM_U395_R2,CM_U395_LO_R1,CM_U395_LO_R2,
TRUTH_JC_R1,TRUTH_JC_R2,TRUTH_CM_R1,TRUTH_CM_R2,PRED_JC_R1,PRED_JC_R2,PRED_CM_R1,PRED_CM_R2,BAND_JC_HI_R1,BAND_JC_LO_R1,BAND_JC_HI_R2,BAND_JC_LO_R2,BAND_CM_HI_R1,BAND_CM_LO_R1,BAND_CM_HI_R2,BAND_CM_LO_R2};
const bad = Object.entries(ALL).filter(([k,v]) => v.length !== 37).map(([k,v]) => k + ':' + v.length);
if (bad.length) throw new Error('Length mismatch: ' + bad.join(', '));

const T = T_R1.concat(T_R2);
const join = (a, b) => a.concat(b);
const JC_MAIN = [join(JC_U45_R1,JC_U45_R2), join(JC_U95_R1,JC_U95_R2), join(JC_U145_R1,JC_U145_R2), join(JC_U195_R1,JC_U195_R2), join(JC_U245_R1,JC_U245_R2), join(JC_U295_R1,JC_U295_R2), join(JC_U345_R1,JC_U345_R2), join(JC_U395_R1,JC_U395_R2)];
const JC_LO = [join(JC_U45_LO_R1,JC_U45_LO_R2), join(JC_U95_LO_R1,JC_U95_LO_R2), join(JC_U145_LO_R1,JC_U145_LO_R2), join(JC_U195_LO_R1,JC_U195_LO_R2), join(JC_U245_LO_R1,JC_U245_LO_R2), join(JC_U295_LO_R1,JC_U295_LO_R2), join(JC_U345_LO_R1,JC_U345_LO_R2), join(JC_U395_LO_R1,JC_U395_LO_R2)];
const CM_MAIN = [join(CM_U45_R1,CM_U45_R2), join(CM_U95_R1,CM_U95_R2), join(CM_U145_R1,CM_U145_R2), join(CM_U195_R1,CM_U195_R2), join(CM_U245_R1,CM_U245_R2), join(CM_U295_R1,CM_U295_R2), join(CM_U345_R1,CM_U345_R2), join(CM_U395_R1,CM_U395_R2)];
const CM_LO = [join(CM_U45_LO_R1,CM_U45_LO_R2), join(CM_U95_LO_R1,CM_U95_LO_R2), join(CM_U145_LO_R1,CM_U145_LO_R2), join(CM_U195_LO_R1,CM_U195_LO_R2), join(CM_U245_LO_R1,CM_U245_LO_R2), join(CM_U295_LO_R1,CM_U295_LO_R2), join(CM_U345_LO_R1,CM_U345_LO_R2), join(CM_U395_LO_R1,CM_U395_LO_R2)];

function rgba(hex, a) {
  const n = parseInt(hex.slice(1), 16);
  return 'rgba(' + ((n >> 16) & 255) + ',' + ((n >> 8) & 255) + ',' + (n & 255) + ',' + a + ')';
}

const FONT = 'DejaVu Sans, Verdana, sans-serif';
const W = 2100, H = 1500, ML = 92, MR = 23, MT = 51, MB = 80;
const PW = W - ML - MR, PH = H - MT - MB;
const px2x = px => (px - ML) / PW;
const py2y = py => (H - MB - py) / PH;

const traces = [];
function probTraces(main, lo, xa, ya, legA, legB) {
  THRESHOLDS.forEach((name, i) => {
    traces.push({type: 'scatter', mode: 'lines', x: T, y: main[i], name: name,
      legend: (i % 2 === 0) ? legA : legB, xaxis: xa, yaxis: ya,
      line: {color: rgba(COLORS[i], 0.85), width: 2.4}, hoverinfo: 'skip'});
    traces.push({type: 'scatter', mode: 'lines', x: T, y: lo[i], showlegend: false, xaxis: xa, yaxis: ya,
      line: {color: rgba(COLORS[i], 0.6), width: 1.2, dash: '1.5px,2px'},
      fill: 'tonexty', fillcolor: rgba(COLORS[i], 0.10), hoverinfo: 'skip'});
  });
}
probTraces(JC_MAIN, JC_LO, 'x', 'y', 'legend', 'legend2');
probTraces(CM_MAIN, CM_LO, 'x2', 'y2', 'legend3', 'legend4');

const RED = '#ff0000', BLUE = '#0000ff';
function band(hi, lo, col) {
  traces.push({type:'scatter', mode:'lines', x:T, y:hi, showlegend:false, xaxis:'x3', yaxis:'y3',
    line:{color: rgba(col,0.18), width:1}, hoverinfo:'skip'});
  traces.push({type:'scatter', mode:'lines', x:T, y:lo, showlegend:false, xaxis:'x3', yaxis:'y3',
    line:{color: rgba(col,0.18), width:1}, fill:'tonexty', fillcolor: rgba(col,0.13), hoverinfo:'skip'});
}
band(join(BAND_JC_HI_R1,BAND_JC_HI_R2), join(BAND_JC_LO_R1,BAND_JC_LO_R2), RED);
band(join(BAND_CM_HI_R1,BAND_CM_HI_R2), join(BAND_CM_LO_R1,BAND_CM_LO_R2), BLUE);
traces.push({type:'scatter', mode:'lines', x:T, y:join(PRED_JC_R1,PRED_JC_R2), name: COUNT_LEGEND[2], legend:'legend5', legendrank:3,
  xaxis:'x3', yaxis:'y3', line:{color: rgba(RED,0.6), width:2.4, dash:'2.5px,4px'}, hoverinfo:'skip'});
traces.push({type:'scatter', mode:'lines', x:T, y:join(PRED_CM_R1,PRED_CM_R2), name: COUNT_LEGEND[3], legend:'legend5', legendrank:4,
  xaxis:'x3', yaxis:'y3', line:{color: rgba(BLUE,0.6), width:2.4, dash:'2.5px,4px'}, hoverinfo:'skip'});
traces.push({type:'scatter', mode:'lines', x:T, y:join(TRUTH_JC_R1,TRUTH_JC_R2), name: COUNT_LEGEND[0], legend:'legend5', legendrank:1,
  xaxis:'x3', yaxis:'y3', line:{color: rgba(RED,0.7), width:2.8}, hoverinfo:'skip'});
traces.push({type:'scatter', mode:'lines', x:T, y:join(TRUTH_CM_R1,TRUTH_CM_R2), name: COUNT_LEGEND[1], legend:'legend5', legendrank:2,
  xaxis:'x3', yaxis:'y3', line:{color: rgba(BLUE,0.7), width:2.8}, hoverinfo:'skip'});

// round labels as text marks (so the legend box in the count panel sits over "R1", as in the source)
[['x','y',1.088],['x2','y2',1.088],['x3','y3',46.3]].forEach(([xa, ya, yv]) => {
  traces.push({type:'scatter', mode:'text', x: ROUND_STARTS.map(t => t + 2.4), y: [yv, yv], text: ROUND_LABELS,
    textposition: 'middle right', textfont: {family: FONT, size: 16, color: '#666'}, showlegend: false,
    xaxis: xa, yaxis: ya, hoverinfo: 'skip', cliponaxis: false});
});

const axisCommon = {showline: true, mirror: true, linecolor: '#262626', linewidth: 1.6,
  ticks: 'outside', ticklen: 6, tickwidth: 1.3, tickcolor: '#262626', zeroline: false,
  tickfont: {family: FONT, size: 13.9, color: '#262626'}, automargin: false};
const xCommon = Object.assign({}, axisCommon, {range: [-18, 378], tickvals: X_TICKS, showgrid: false});
const yProb = Object.assign({}, axisCommon, {range: [0, 1.15], tickvals: Y_TICKS, tickformat: '.2f',
  showgrid: true, gridcolor: '#e3e3e3', gridwidth: 1, ticklen: 5,
  title: {text: 'Prob', font: {family: FONT, size: 13.9, color: '#111'}, standoff: 14}});

const legendRow = (x, y) => ({orientation: 'h', x: x, y: y, xanchor: 'left', yanchor: 'top',
  bgcolor: 'rgba(0,0,0,0)', borderwidth: 0, font: {family: FONT, size: 12.5, color: '#222'},
  entrywidth: 80, entrywidthmode: 'pixels', itemwidth: 30, tracegroupgap: 0, traceorder: 'normal'});

const shapes = [];
[['x','y'],['x2','y2'],['x3','y3']].forEach(([xa, ya]) => {
  ROUND_STARTS.forEach(t => shapes.push({type:'line', xref: xa, yref: ya + ' domain', x0: t, x1: t, y0: 0, y1: 1,
    line: {color: 'rgba(90,90,90,0.7)', width: 1, dash: '2px,2px'}, layer: 'above'}));
});
function box(x0, x1, y0, y1) {
  shapes.push({type: 'rect', xref: 'paper', yref: 'paper', x0: px2x(x0), x1: px2x(x1), y0: py2y(y1), y1: py2y(y0),
    fillcolor: 'rgba(255,255,255,0.8)', line: {color: '#cccccc', width: 1.2}, layer: 'above'});
}
box(1581, 2069, 58, 100);
box(1581, 2069, 586, 628);
box(100, 379, 1113, 1208);

const annotations = [
  {xref: 'paper', yref: 'paper', x: 0.5, y: py2y(31), text: FIGHTER_A + TITLE_SUFFIX, showarrow: false,
    xanchor: 'center', yanchor: 'middle', font: {family: FONT, size: 20.8, color: '#000'}},
  {xref: 'paper', yref: 'paper', x: 0.5, y: py2y(559), text: FIGHTER_B + TITLE_SUFFIX, showarrow: false,
    xanchor: 'center', yanchor: 'middle', font: {family: FONT, size: 20.8, color: '#000'}}
];

const layout = {
  width: W, height: H, margin: {l: ML, r: MR, t: MT, b: MB, pad: 0},
  paper_bgcolor: '#fff', plot_bgcolor: '#fff', font: {family: FONT, color: '#222'},
  showlegend: true,
  xaxis: Object.assign({}, xCommon, {anchor: 'y', domain: [0, 1], showticklabels: false}),
  xaxis2: Object.assign({}, xCommon, {anchor: 'y2', domain: [0, 1], showticklabels: false}),
  xaxis3: Object.assign({}, xCommon, {anchor: 'y3', domain: [0, 1],
    title: {text: 'Fight time (seconds)', font: {family: FONT, size: 20.5, color: '#111'}, standoff: 12}}),
  yaxis: Object.assign({}, yProb, {anchor: 'x', domain: [py2y(518), 1]}),
  yaxis2: Object.assign({}, yProb, {anchor: 'x2', domain: [py2y(1046), py2y(579)]}),
  yaxis3: Object.assign({}, axisCommon, {anchor: 'x3', domain: [0, py2y(1106)], range: [-2.4, 49.45],
    tick0: 0, dtick: 10, ticklen: 5, showgrid: true, gridcolor: '#dedede', gridwidth: 1,
    minor: {dtick: 5, tick0: 0, showgrid: true, gridcolor: '#f0f0f0', gridwidth: 1, ticks: ''},
    title: {text: 'Count', font: {family: FONT, size: 15, color: '#111'}, standoff: 15}}),
  legend: legendRow(px2x(1580), py2y(53)),
  legend2: legendRow(px2x(1580), py2y(73)),
  legend3: legendRow(px2x(1580), py2y(581)),
  legend4: legendRow(px2x(1580), py2y(601)),
  legend5: {orientation: 'v', x: px2x(102), y: py2y(1112), xanchor: 'left', yanchor: 'top',
    bgcolor: 'rgba(0,0,0,0)', borderwidth: 0, font: {family: FONT, size: 14, color: '#222'},
    itemwidth: 30, tracegroupgap: 0, traceorder: 'normal'},
  shapes: shapes,
  annotations: annotations
};

Plotly.newPlot('chart', traces, layout, {staticPlot: true, displayModeBar: false});
</script>
</body></html>
